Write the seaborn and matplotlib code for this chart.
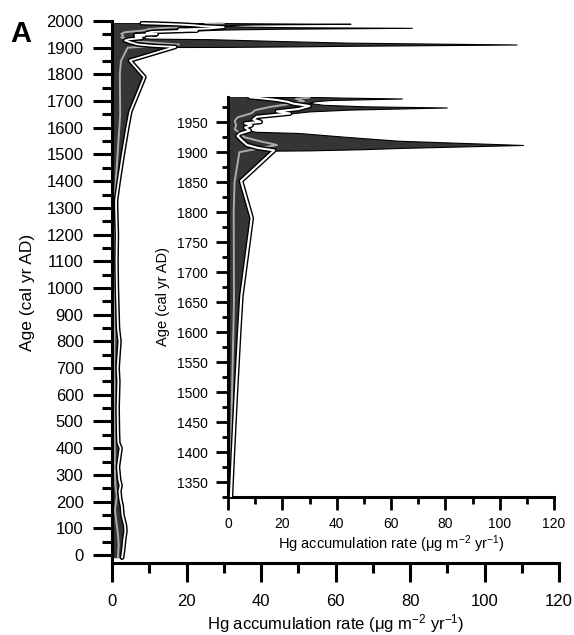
import matplotlib
matplotlib.use('Agg')
import matplotlib.pyplot as plt
import matplotlib.patheffects as pe
from matplotlib.ticker import MultipleLocator
import seaborn as sns

# ---- data (cal yr AD vs Hg accumulation rate, ug m-2 yr-1) ----
# series drawn as white line with black outline
year_w = [-10, 20, 60, 90, 110, 150, 185, 210, 240, 260, 283, 330, 400, 420, 460,
          550, 650, 700, 800, 850, 900, 1000, 1100, 1200, 1300, 1330, 1400, 1500,
          1600, 1660, 1790, 1852, 1903, 1907, 1912, 1920, 1927, 1931, 1936, 1941,
          1945, 1948, 1950.5, 1954.5, 1959, 1964.5, 1968, 1972, 1977, 1981, 1984,
          1987, 1990, 1991.5]
hg_w = [2.7, 3.0, 3.3, 3.6, 3.5, 2.8, 2.6, 2.2, 2.0, 2.3, 1.9, 1.6, 2.3, 1.7, 1.6,
        1.5, 1.7, 1.5, 2.0, 1.6, 1.5, 1.3, 1.2, 1.3, 1.1, 1.1, 1.8, 2.9,
        4.1, 4.9, 8.7, 4.8, 17.0, 11.0, 7.0, 5.0, 3.5, 4.4, 8.0, 6.3,
        8.7, 6.3, 12.0, 9.3, 10.6, 22.8, 18.0, 26.0, 30.0, 24.0, 22.0,
        18.0, 12.0, 8.0]

# upper envelope (spikes) of the dark range
year_env = [1900, 1902.5, 1903, 1905, 1907, 1912, 1919, 1925, 1932, 1934, 1940,
            1950, 1960, 1964.5, 1968, 1971, 1974.5, 1976.5, 1979, 1982, 1985,
            1987, 1989.5, 1991, 1992]
hg_env = [4.0, 16.0, 30.0, 50.0, 63.0, 108.6, 63.0, 45.0, 26.0, 10.0, 5.0,
          5.0, 8.0, 22.8, 30.0, 45.0, 80.5, 50.0, 35.0, 30.0, 32.0,
          38.0, 64.0, 42.0, 32.0]

# light gray series
year_g = [-10, 40, 90, 130, 170, 220, 260, 300, 400, 500, 700, 900, 1100, 1330,
          1500, 1650, 1800, 1850, 1900, 1912, 1918, 1925, 1932, 1938, 1945, 1952,
          1958, 1965, 1970, 1975, 1980, 1985, 1989, 1991]
hg_g = [1.6, 1.8, 1.5, 1.1, 0.8, 1.3, 0.9, 0.8, 0.7, 0.8, 0.6, 0.7, 0.5, 0.7,
        1.5, 2.2, 2.1, 2.4, 4.2, 18.0, 12.0, 6.0, 4.4, 2.5, 3.0, 2.5,
        3.5, 8.7, 10.0, 15.0, 22.0, 28.0, 25.0, 30.0]

x_ticks = [0, 20, 40, 60, 80, 100, 120]
main_y_ticks = list(range(0, 2001, 100))
inset_y_ticks = list(range(1350, 1951, 50))
xlabel = r'Hg accumulation rate ($\mu$g m$^{-2}$ yr$^{-1}$)'
ylabel = 'Age (cal yr AD)'
panel = 'A'

# ---- style ----
sns.set_theme(style='ticks')
plt.rcParams['font.family'] = ['Liberation Sans', 'DejaVu Sans']
plt.rcParams['mathtext.fontset'] = 'custom'
plt.rcParams['mathtext.rm'] = 'Liberation Sans'
plt.rcParams['mathtext.it'] = 'Liberation Sans'
plt.rcParams['mathtext.bf'] = 'Liberation Sans:bold'

FILL = '#353535'
GRAY = '#ababab'

fig = plt.figure(figsize=(5.74, 6.35), dpi=100)
ax = fig.add_axes([112 / 574, 72 / 635, 447 / 574, 542 / 635])
ax2 = fig.add_axes([228 / 574, 138 / 635, 326 / 574, 400 / 635])


def draw(a, wlw, slw):
    a.fill_betweenx(year_env, 0, hg_env, color=FILL, edgecolor='black',
                    linewidth=0.8, zorder=1)
    a.fill_betweenx(year_w, 0, hg_w, color=FILL, linewidth=0, zorder=1)
    sns.lineplot(x=hg_g, y=year_g, orient='y', sort=False, estimator=None,
                 color=GRAY, lw=1.4, ax=a, zorder=2)
    sns.lineplot(x=hg_w, y=year_w, orient='y', sort=False, estimator=None,
                 color='white', lw=wlw, ax=a, zorder=3,
                 path_effects=[pe.Stroke(linewidth=slw, foreground='black'),
                               pe.Normal()])


draw(ax, 1.3, 3.4)
draw(ax2, 1.5, 3.5)

for a in (ax, ax2):
    sns.despine(ax=a)
    a.set_xlim(0, 120)
    a.set_xticks(x_ticks)
    a.xaxis.set_minor_locator(MultipleLocator(10))
    for s in ('left', 'bottom'):
        a.spines[s].set_linewidth(2.2)
        a.spines[s].set_color('black')
    a.set_facecolor('white')

# main axes
ax.set_ylim(-30, 2000)
ax.set_yticks(main_y_ticks)
ax.yaxis.set_minor_locator(MultipleLocator(50))
ax.tick_params(axis='both', which='major', length=13.5, width=2.2,
               labelsize=12, colors='black')
ax.tick_params(axis='both', which='minor', length=7, width=2.2, colors='black')
ax.tick_params(axis='y', which='major', pad=7)
ax.tick_params(axis='x', which='major', pad=9)
ax.set_xlabel(xlabel, fontsize=12, labelpad=2, color='black')
ax.set_ylabel(ylabel, fontsize=12.5, labelpad=8, color='black')

# inset axes
ax2.set_ylim(1325, 1992)
ax2.set_yticks(inset_y_ticks)
ax2.yaxis.set_minor_locator(MultipleLocator(25))
ax2.tick_params(axis='y', which='major', length=9, width=2.0, labelsize=10,
                pad=5.5, colors='black')
ax2.tick_params(axis='y', which='minor', length=4.5, width=2.0, colors='black')
ax2.tick_params(axis='x', which='major', length=9.4, width=2.0, labelsize=10,
                pad=5, colors='black')
ax2.tick_params(axis='x', which='minor', length=5, width=2.0, colors='black')
ax2.set_xlabel(xlabel, fontsize=10.5, labelpad=2, color='black')
ax2.set_ylabel(ylabel, fontsize=10.5, labelpad=5, color='black')

fig.text(10 / 574, 1 - 20 / 635, panel, fontsize=21, fontweight='bold',
         va='top', ha='left', color='black')

fig.savefig('out.png', dpi=100)
